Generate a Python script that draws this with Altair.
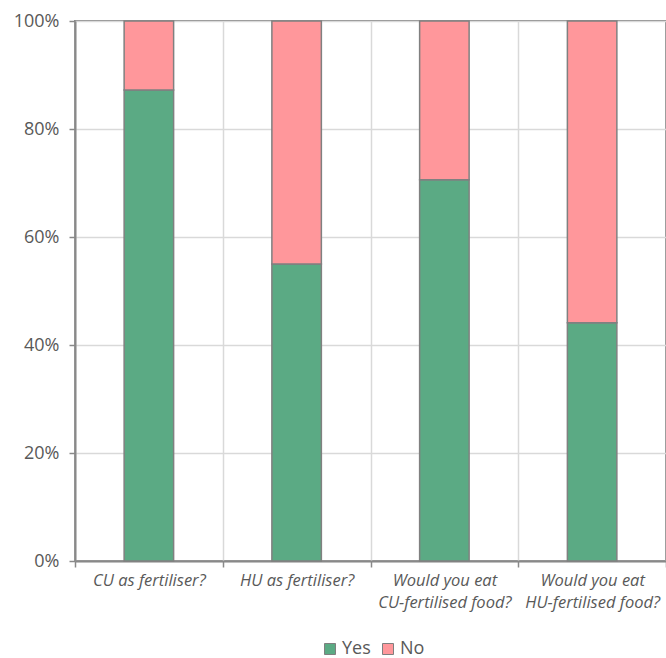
import altair as alt
import pandas as pd

# Survey questions (line breaks split the longer ones)
questions = [
    "CU as fertiliser?",
    "HU as fertiliser?",
    "Would you eat\nCU-fertilised food?",
    "Would you eat\nHU-fertilised food?",
]
answers = ["Yes", "No"]
yes_pct = [87.2, 55.0, 70.6, 44.1]
no_pct = [12.8, 45.0, 29.4, 55.9]
answer_colors = ["#5BAA84", "#FF979B"]

rows = []
for q, y, n in zip(questions, yes_pct, no_pct):
    rows.append({"question": q, "answer": "Yes", "pct": y, "rank": 0})
    rows.append({"question": q, "answer": "No", "pct": n, "rank": 1})
df = pd.DataFrame(rows)

FONT = "Open Sans"
TEXT = "#595959"
GRID = "#D9D9D9"
LINE = "#898989"

chart = (
    alt.Chart(df)
    .mark_bar(width=alt.RelativeBandSize(0.335), stroke="#808080", strokeWidth=1.5)
    .encode(
        x=alt.X(
            "question:N",
            sort=questions,
            title=None,
            scale=alt.Scale(paddingInner=0, paddingOuter=0),
            axis=alt.Axis(
                tickBand="extent",
                labelAngle=0,
                labelExpr="split(datum.label, '\\n')",
                labelFont=FONT,
                labelFontStyle="italic",
                labelFontSize=16.5,
                labelColor=TEXT,
                labelLineHeight=22,
                labelBaseline="top",
                labelPadding=5,
                tickSize=6,
                tickColor=LINE,
                tickWidth=1.5,
                domainColor=LINE,
                domainWidth=2,
                grid=True,
                gridColor=GRID,
                gridWidth=1.5,
            ),
        ),
        y=alt.Y(
            "pct:Q",
            stack="zero",
            title=None,
            scale=alt.Scale(domain=[0, 100], nice=False),
            axis=alt.Axis(
                values=[0, 20, 40, 60, 80, 100],
                labelExpr="datum.value + '%'",
                labelFont=FONT,
                labelFontSize=18,
                labelColor=TEXT,
                labelPadding=10,
                tickSize=6,
                tickColor=LINE,
                tickWidth=1.5,
                domainColor=LINE,
                domainWidth=2,
                grid=True,
                gridColor=GRID,
                gridWidth=1.5,
            ),
        ),
        color=alt.Color(
            "answer:N",
            sort=answers,
            scale=alt.Scale(domain=answers, range=answer_colors),
            legend=alt.Legend(
                title=None,
                orient="none",
                direction="horizontal",
                legendX=246,
                legendY=619,
                symbolType="square",
                symbolSize=121,
                symbolStrokeColor="#7F7F7F",
                symbolStrokeWidth=1,
                labelFont=FONT,
                labelFontSize=18,
                labelColor=TEXT,
                labelOffset=3,
                columnPadding=8,
            ),
        ),
        order=alt.Order("rank:Q"),
    )
    .properties(
        width=591,
        height=540,
        autosize=alt.AutoSizeParams(type="none"),
        padding={"left": 75, "top": 21, "right": 0, "bottom": 97},
    )
    .configure_view(stroke=LINE, strokeWidth=2)
)

chart.save("out.html", embed_options={"renderer": "svg", "actions": False})
